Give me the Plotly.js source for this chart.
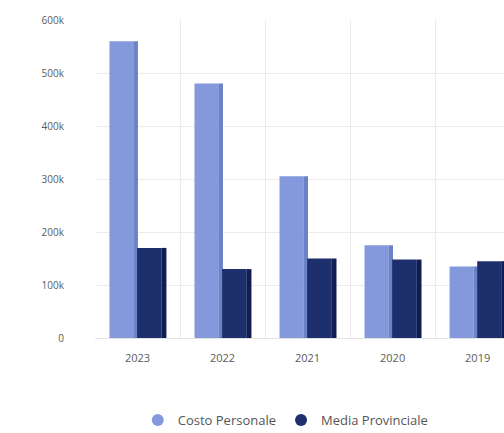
<!DOCTYPE html>
<html>
<head>
<meta charset="utf-8">
<script src="https://cdn.plot.ly/plotly-3.0.1.min.js"></script>
<style>html,body{margin:0;padding:0;background:#fff;}#chart{width:504px;height:433px;}</style>
</head>
<body>
<div id="chart"></div>
<script>
const years = ["2023", "2022", "2021", "2020", "2019"];
const costoPersonale = [560000, 480000, 305000, 175000, 135000];
const mediaProvinciale = [170000, 130000, 150000, 148000, 145000];
const seriesNames = ["Costo Personale", "Media Provinciale"];

const xs = years.map((_, i) => i);
const lightFace = "#8399dc", lightSide = "#6b82c6";
const darkFace = "#1d2f6c", darkSide = "#0f1d52";

function barTrace(y, color, offset, width, name) {
  return {type: "bar", x: xs, y: y, offset: offset, width: width,
    marker: {color: color, line: {width: 0}}, showlegend: false, hoverinfo: "skip", name: name};
}

const traces = [
  barTrace(costoPersonale, lightFace, -0.33, 0.28, seriesNames[0]),
  barTrace(costoPersonale, lightSide, -0.05, 0.055, seriesNames[0]),
  barTrace(mediaProvinciale, darkFace, -0.005, 0.29, seriesNames[1]),
  barTrace(mediaProvinciale, darkSide, 0.285, 0.055, seriesNames[1]),
  {type: "scatter", mode: "markers", x: [null], y: [null], name: seriesNames[0],
   marker: {symbol: "circle", size: 12, color: lightFace}},
  {type: "scatter", mode: "markers", x: [null], y: [null], name: seriesNames[1],
   marker: {symbol: "circle", size: 12, color: darkFace}}
];

const layout = {
  width: 504, height: 433,
  margin: {l: 95, r: 0, t: 20, b: 95},
  paper_bgcolor: "#ffffff", plot_bgcolor: "#ffffff",
  barmode: "overlay",
  font: {family: "Open Sans, sans-serif", size: 10, color: "#5a5a5a"},
  xaxis: {
    range: [-0.5, 4.31], tickvals: xs, ticktext: years,
    showgrid: false, zeroline: false, showline: false, ticks: "",
    ticklabelstandoff: 12,
    minor: {tickvals: [0.5, 1.5, 2.5, 3.5], showgrid: true, gridcolor: "#ebebeb", gridwidth: 1, ticks: ""},
    tickfont: {size: 11, color: "#5a5a5a"}, fixedrange: true
  },
  yaxis: {
    range: [0, 600000], tickvals: [0, 100000, 200000, 300000, 400000, 500000, 600000],
    tickformat: "~s", showgrid: true, gridcolor: "#ebebeb", gridwidth: 1,
    zeroline: true, zerolinecolor: "#e3e3e3", showline: false, ticks: "",
    ticklabelstandoff: 30, tickfont: {size: 10, color: "#5a5a5a"}, fixedrange: true
  },
  showlegend: true,
  legend: {orientation: "h", x: 0.567, xanchor: "center", xref: "container",
    y: 0.03, yanchor: "middle", yref: "container",
    font: {size: 13, color: "#555555"}, itemsizing: "constant", itemwidth: 30}
};

Plotly.newPlot("chart", traces, layout, {displayModeBar: false, staticPlot: true});
</script>
</body>
</html>
